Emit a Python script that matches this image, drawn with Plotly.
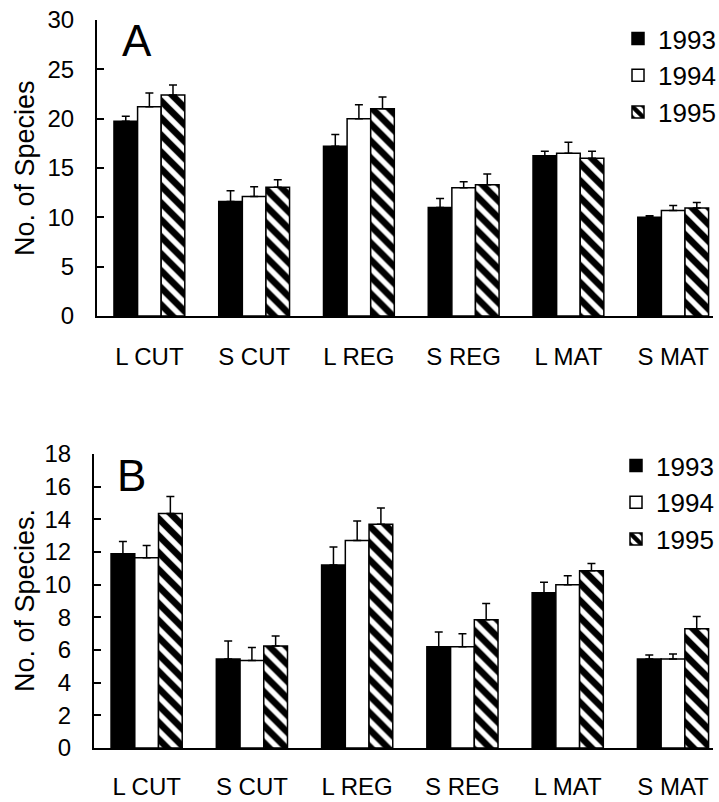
import plotly.graph_objects as go

W, H = 719, 802

categories = ["L CUT", "S CUT", "L REG", "S REG", "L MAT", "S MAT"]
years = ["1993", "1994", "1995"]

# Panel A
a_1993 = [19.75, 11.6, 17.2, 11.0, 16.25, 10.0]
a_1993_err = [0.5, 1.1, 1.2, 0.9, 0.45, 0.15]
a_1994 = [21.2, 12.1, 20.0, 13.0, 16.5, 10.7]
a_1994_err = [1.4, 1.0, 1.4, 0.6, 1.1, 0.5]
a_1995 = [22.4, 13.05, 21.0, 13.3, 16.0, 10.95]
a_1995_err = [1.0, 0.75, 1.2, 1.1, 0.7, 0.55]

# Panel B
b_1993 = [11.9, 5.45, 11.2, 6.2, 9.5, 5.45]
b_1993_err = [0.75, 1.1, 1.1, 0.9, 0.65, 0.25]
b_1994 = [11.65, 5.35, 12.7, 6.2, 10.0, 5.45]
b_1994_err = [0.75, 0.8, 1.2, 0.8, 0.55, 0.3]
b_1995 = [14.35, 6.25, 13.7, 7.85, 10.85, 7.3]
b_1995_err = [1.05, 0.6, 1.0, 1.0, 0.45, 0.75]

a_ticks = [0, 5, 10, 15, 20, 25, 30]
b_ticks = [0, 2, 4, 6, 8, 10, 12, 14, 16, 18]

FONT = "Arial, 'Liberation Sans', Helvetica, sans-serif"


def px_x(p):
    return p / W


def px_y(p):
    return 1 - p / H


styles = {
    "1993": dict(color="black", pattern=dict(shape="")),
    "1994": dict(color="white", pattern=dict(shape="")),
    "1995": dict(color="white",
                 pattern=dict(shape="\\", fgcolor="black", bgcolor="white",
                              size=12, solidity=0.55, fillmode="replace")),
}

fig = go.Figure()

panels = [
    ("x", "y", "legend", [(a_1993, a_1993_err), (a_1994, a_1994_err), (a_1995, a_1995_err)]),
    ("x2", "y2", "legend2", [(b_1993, b_1993_err), (b_1994, b_1994_err), (b_1995, b_1995_err)]),
]

for xa, ya, leg, series in panels:
    for yr, (vals, errs) in zip(years, series):
        st = styles[yr]
        fig.add_trace(go.Bar(
            x=categories, y=vals, name=yr,
            xaxis=xa, yaxis=ya, legend=leg,
            marker=dict(color=st["color"], pattern=st["pattern"],
                        line=dict(color="black", width=1.5)),
            error_y=dict(type="data", symmetric=False, array=errs,
                         arrayminus=[0] * len(errs),
                         color="black", thickness=1.5, width=4),
        ))

axis_common = dict(
    showline=True, linecolor="black", linewidth=2, showgrid=False,
    zeroline=False, automargin=False,
    tickfont=dict(family=FONT, size=24, color="black"),
)

xrange = [-0.5, 5.38]

fig.update_layout(
    template="none",
    width=W, height=H,
    margin=dict(l=0, r=0, t=0, b=0, autoexpand=False),
    paper_bgcolor="white", plot_bgcolor="white",
    barmode="group", bargap=0.324, bargroupgap=0,
    font=dict(family=FONT, color="black"),
    xaxis=dict(domain=[px_x(97), px_x(713)], anchor="y", range=xrange,
               ticks="", ticklabelstandoff=18, **axis_common),
    yaxis=dict(domain=[px_y(316), px_y(20)], anchor="x", range=[0, 30],
               tickvals=a_ticks, ticks="inside", ticklen=7, tickwidth=2,
               tickcolor="black", ticklabelstandoff=16, **axis_common),
    xaxis2=dict(domain=[px_x(94), px_x(713)], anchor="y2", range=xrange,
                ticks="", ticklabelstandoff=16, **axis_common),
    yaxis2=dict(domain=[px_y(748), px_y(454)], anchor="x2", range=[0, 18],
                tickvals=b_ticks, ticks="inside", ticklen=7, tickwidth=2,
                tickcolor="black", ticklabelstandoff=16, **axis_common),
    legend=dict(x=px_x(618), y=px_y(15), xanchor="left", yanchor="top",
                font=dict(family=FONT, size=26, color="black"),
                bgcolor="rgba(0,0,0,0)", tracegroupgap=0),
    legend2=dict(x=px_x(616), y=px_y(442), xanchor="left", yanchor="top",
                 font=dict(family=FONT, size=26, color="black"),
                 bgcolor="rgba(0,0,0,0)", tracegroupgap=0),
    annotations=[
        dict(text="A", x=px_x(137), y=px_y(41), xref="paper", yref="paper",
             xanchor="center", yanchor="middle", showarrow=False,
             font=dict(family=FONT, size=44, color="black")),
        dict(text="B", x=px_x(131), y=px_y(475), xref="paper", yref="paper",
             xanchor="center", yanchor="middle", showarrow=False,
             font=dict(family=FONT, size=44, color="black")),
        dict(text="No. of Species", x=px_x(25), y=px_y(168), xref="paper",
             yref="paper", xanchor="center", yanchor="middle",
             showarrow=False, textangle=-90,
             font=dict(family=FONT, size=27, color="black")),
        dict(text="No. of Species.", x=px_x(25), y=px_y(601), xref="paper",
             yref="paper", xanchor="center", yanchor="middle",
             showarrow=False, textangle=-90,
             font=dict(family=FONT, size=27, color="black")),
    ],
)

fig.write_html("out.html")
